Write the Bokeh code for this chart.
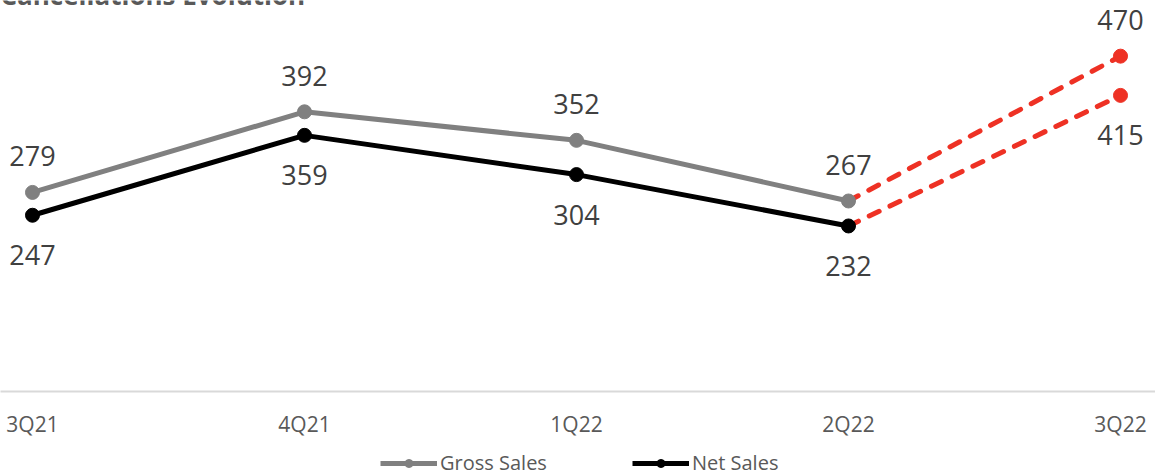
from bokeh.plotting import figure
from bokeh.layouts import column
from bokeh.models import (Range1d, FixedTicker, Legend, LegendItem, Label,
                          ColumnDataSource)
from bokeh.core.properties import value
from bokeh.embed import file_html
from bokeh.resources import INLINE

# Quarterly cancellations (gross vs. net sales)
quarters = ["3Q21", "4Q21", "1Q22", "2Q22", "3Q22"]
gross_sales = [279, 392, 352, 267, 470]
net_sales = [247, 359, 304, 232, 415]
series_names = ["Gross Sales", "Net Sales"]

title_text = "Cancellations Evolution"
FONT = "Open Sans"
GREY = "#808080"
BLACK = "#000000"
RED = "#ee3124"

xs = list(range(len(quarters)))
n_actual = len(quarters) - 1  # last quarter is shown as a projection
x_range = Range1d(-32 / 272, 4 + 35 / 272)

p = figure(width=1155, height=441, output_backend="svg", toolbar_location=None,
           x_range=x_range, y_range=Range1d(0, 548),
           y_axis_location=None, min_border=0, min_border_bottom=50)
p.outline_line_color = None
p.xgrid.visible = False
p.ygrid.visible = False

src_actual = ColumnDataSource(dict(x=xs[:n_actual], gross=gross_sales[:n_actual],
                                   net=net_sales[:n_actual]))
src_proj = ColumnDataSource(dict(x=xs[n_actual - 1:], gross=gross_sales[n_actual - 1:],
                                 net=net_sales[n_actual - 1:]))
src_last = ColumnDataSource(dict(x=xs[n_actual:], gross=gross_sales[n_actual:],
                                 net=net_sales[n_actual:]))
src_all = ColumnDataSource(dict(x=xs, gross=gross_sales, net=net_sales,
                                gross_txt=[str(v) for v in gross_sales],
                                net_txt=[str(v) for v in net_sales]))

# projected segments (dashed red) and projected points
for col in ("gross", "net"):
    p.line("x", col, source=src_proj, line_color=RED, line_width=5,
           line_dash="11 12", line_cap="round")
    p.scatter("x", col, source=src_last, size=14, fill_color=RED, line_color=RED)

# actual series
p.line("x", "gross", source=src_actual, line_color=GREY, line_width=5)
p.scatter("x", "gross", source=src_actual, size=14, fill_color=GREY, line_color=GREY)
p.line("x", "net", source=src_actual, line_color=BLACK, line_width=5)
p.scatter("x", "net", source=src_actual, size=14, fill_color=BLACK, line_color=BLACK)

# data labels: gross above the points, net below
p.text("x", "gross", text="gross_txt", source=src_all, text_align="center",
       text_baseline="alphabetic", y_offset=-36, text_font=value(FONT),
       text_font_size="27px", text_color="#404040")
p.text("x", "net", text="net_txt", source=src_all, text_align="center",
       text_baseline="alphabetic", y_offset=40, text_font=value(FONT),
       text_font_size="27px", text_color="#404040")

# category axis
ax = p.xaxis[0]
ax.ticker = FixedTicker(ticks=xs)
ax.major_label_overrides = {i: q for i, q in enumerate(quarters)}
ax.axis_line_color = "#d9d9d9"
ax.axis_line_width = 2
ax.major_tick_line_color = None
ax.minor_tick_line_color = None
ax.major_tick_out = 0
ax.major_tick_in = 0
ax.major_label_standoff = 18
ax.major_label_text_font = FONT
ax.major_label_text_font_size = "21px"
ax.major_label_text_color = "#595959"

p.add_layout(Label(x=0, y=397, x_units="screen", y_units="screen", text=title_text,
                   text_font=FONT, text_font_style="bold", text_font_size="26px",
                   text_color="#595959", text_baseline="alphabetic"))

# legend strip underneath the chart; its renderers reuse the series data,
# which lies outside this strip's range, so only the legend swatches show
leg = figure(width=1155, height=31, output_backend="svg", toolbar_location=None,
             x_range=Range1d(0, 1), y_range=Range1d(0, 1),
             x_axis_location=None, y_axis_location=None, min_border=0)
leg.outline_line_color = None
leg.xgrid.visible = False
leg.ygrid.visible = False
items = []
for name, col, color in zip(series_names, ("gross", "net"), (GREY, BLACK)):
    ln = leg.line("x", col, source=src_actual, line_color=color, line_width=5)
    dot = leg.scatter("x", col, source=src_actual, size=14, fill_color=color,
                      line_color=color)
    items.append(LegendItem(label=name, renderers=[ln, dot]))

legend = Legend(items=items, orientation="horizontal", location=(380, -4),
                glyph_width=57, glyph_height=20, label_standoff=3, spacing=85,
                padding=0, margin=0, border_line_color=None,
                background_fill_alpha=0, label_text_font=FONT,
                label_text_font_size="20px", label_text_color="#595959")
leg.add_layout(legend)

open("out.html", "w").write(file_html(column(p, leg, spacing=0), INLINE))
